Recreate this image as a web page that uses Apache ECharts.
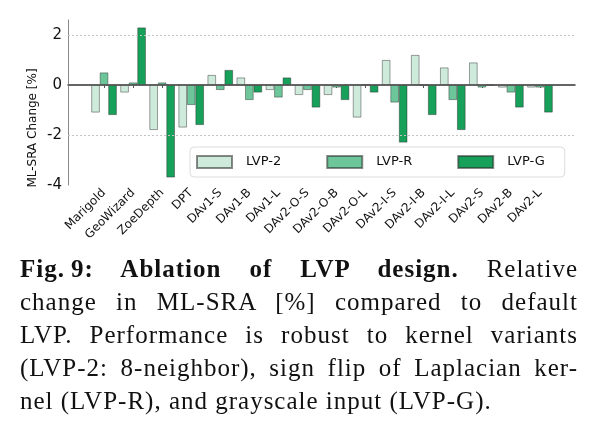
<!DOCTYPE html>
<html>
<head>
<meta charset="utf-8">
<script src="https://cdn.jsdelivr.net/npm/echarts@6/dist/echarts.min.js"></script>
<style>
  body { margin: 0; background: #fff; }
  #chart { width: 599px; height: 431px; }
  #caption {
    position: absolute; left: 20px; top: 252px; width: 558px;
    font-family: 'Liberation Serif', serif; font-size: 25px; line-height: 33px; color: #111;
    letter-spacing: 1px;
  }
  #caption div { text-align: justify; text-align-last: justify; white-space: nowrap; }
  #caption div.last { text-align: left; text-align-last: left; }
</style>
</head>
<body>
<div id="chart"></div>
<div id="caption">
  <div><b>Fig.&#8239;9: Ablation of LVP design.</b> Relative</div>
  <div>change in ML-SRA [%] compared to default</div>
  <div>LVP. Performance is robust to kernel variants</div>
  <div>(LVP-2: 8-neighbor), sign flip of Laplacian ker-</div>
  <div class="last">nel (LVP-R), and grayscale input (LVP-G).</div>
</div>
<script>
const categories = ['Marigold', 'GeoWizard', 'ZoeDepth', 'DPT', 'DAv1-S', 'DAv1-B', 'DAv1-L',
    'DAv2-O-S', 'DAv2-O-B', 'DAv2-O-L', 'DAv2-I-S', 'DAv2-I-B', 'DAv2-I-L', 'DAv2-S', 'DAv2-B', 'DAv2-L'];
const lvp2 = [-1.1, -0.3, -1.8, -1.7, 0.4, 0.3, -0.2, -0.4, -0.4, -1.3, 1.0, 1.2, 0.7, 0.9, -0.1, -0.1];
const lvpR = [0.5, 0.1, 0.1, -0.8, -0.2, -0.6, -0.5, -0.2, -0.1, 0.0, -0.7, 0.0, -0.6, -0.1, -0.3, -0.1];
const lvpG = [-1.2, 2.3, -3.7, -1.6, 0.6, -0.3, 0.3, -0.9, -0.6, -0.3, -2.3, -1.2, -1.8, 0.0, -0.9, -1.1];
const yTicks = [-4, -2, 0, 2];
const gridLines = [-2, 2];

const font = 'DejaVu Sans';
const yMin = -4, yMax = 2.6;

function barSeries(name, data, color) {
    return {
        name: name,
        type: 'bar',
        xAxisIndex: 1,
        yAxisIndex: 1,
        data: data,
        barWidth: 8.5,
        barGap: '0%',
        z: 3,
        itemStyle: {
            color: color,
            borderColor: 'rgba(40,40,40,0.55)',
            borderWidth: 0.8,
        },
    };
}

const option = {
    animation: false,
    backgroundColor: '#fff',
    grid: [
        // outer frame: spines, y labels, reference lines
        {left: 68, right: 24, top: 20, bottom: 246},
        // bars
        {left: 89.5, right: 44.5, top: 20, bottom: 246},
    ],
    legend: {
        data: ['LVP-2', 'LVP-R', 'LVP-G'],
        left: 190,
        top: 147,
        orient: 'horizontal',
        itemWidth: 35,
        itemHeight: 12,
        itemGap: 45,
        padding: [8, 20, 8, 6],
        backgroundColor: 'rgba(255,255,255,0.85)',
        borderColor: '#dcdcdc',
        borderWidth: 1,
        borderRadius: 4,
        icon: 'rect',
        textStyle: {fontFamily: font, fontSize: 13, color: '#111', padding: [0, 0, 0, 9]},
    },
    xAxis: [
        {
            gridIndex: 0, type: 'value', min: 0, max: 1,
            axisLine: {show: true, lineStyle: {color: '#999', width: 2}},
            axisTick: {show: false}, axisLabel: {show: false}, splitLine: {show: false},
        },
        {
            gridIndex: 1, type: 'category', data: categories,
            axisLine: {show: false},
            axisTick: {show: true, alignWithLabel: true, length: 3, lineStyle: {color: '#555'}},
            axisLabel: {rotate: 45, fontFamily: font, fontSize: 12, color: '#111', margin: 6, interval: 0},
            splitLine: {show: false},
        },
    ],
    yAxis: [
        {
            gridIndex: 0, type: 'value', min: yMin, max: yMax, interval: 2,
            axisLine: {show: true, lineStyle: {color: '#888', width: 1}},
            axisTick: {show: false},
            axisLabel: {
                fontFamily: font, fontSize: 15, color: '#111', margin: 6, showMaxLabel: false,
                formatter: v => (yTicks.includes(v) ? String(v) : ''),
            },
            splitLine: {show: false},
        },
        {
            gridIndex: 1, type: 'value', min: yMin, max: yMax,
            axisLine: {show: false}, axisTick: {show: false}, axisLabel: {show: false}, splitLine: {show: false},
        },
    ],
    graphic: [
        {
            type: 'text', x: 33, y: 128, rotation: Math.PI / 2,
            style: {text: 'ML-SRA Change [%]', font: '12px "DejaVu Sans"', fill: '#111', textAlign: 'center', textVerticalAlign: 'middle'},
        },
    ],
    series: [
        {
            type: 'line', xAxisIndex: 0, yAxisIndex: 0, data: [[0, 0]], showSymbol: false, z: 1, silent: true,
            markLine: {
                symbol: 'none', silent: true, label: {show: false},
                lineStyle: {color: '#c4c4c4', type: [2, 2], width: 1},
                data: gridLines.map(v => ({yAxis: v})),
            },
        },
        barSeries('LVP-2', lvp2, '#cdeadb'),
        barSeries('LVP-R', lvpR, '#6cc699'),
        barSeries('LVP-G', lvpG, '#16a05a'),
        {
            type: 'line', xAxisIndex: 0, yAxisIndex: 0, data: [[0, 0]], showSymbol: false, z: 5, silent: true,
            markLine: {
                symbol: 'none', silent: true, label: {show: false},
                lineStyle: {color: '#555', type: 'solid', width: 1.5},
                data: [{yAxis: 0}],
            },
        },
    ],
};

const chart = echarts.init(document.getElementById('chart'), null, {renderer: 'canvas'});
chart.setOption(option);
</script>
</body>
</html>
